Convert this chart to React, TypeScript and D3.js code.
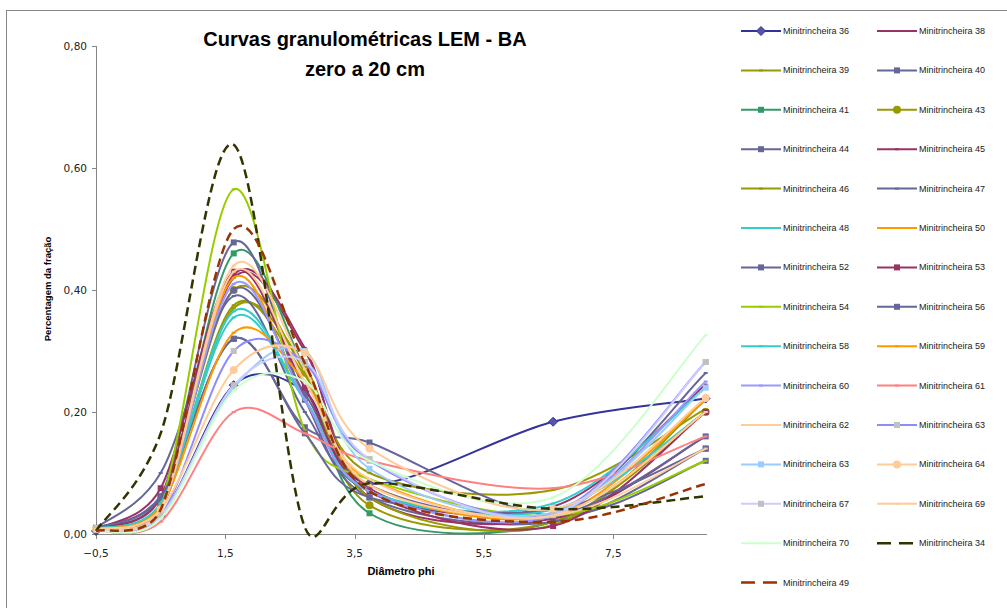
import React from 'react';
import * as d3 from 'd3';

// phi classes (x) where each curve has a point
const phi = [-0.5, 0.5, 1.63, 2.73, 3.73, 6.57, 8.93];
const xTicks = [-0.5, 1.5, 3.5, 5.5, 7.5];
const yTicks = [0, 0.2, 0.4, 0.6, 0.8];

// fraction values per minitrincheira
const m36 = [0.005, 0.03, 0.244, 0.233, 0.083, 0.184, 0.222];
const m38 = [0.008, 0.05, 0.42, 0.3, 0.075, 0.045, 0.245];
const m39 = [0.008, 0.045, 0.375, 0.26, 0.1, 0.072, 0.205];
const m40 = [0.01, 0.062, 0.32, 0.175, 0.15, 0.03, 0.12];
const m41 = [0.008, 0.04, 0.46, 0.27, 0.034, 0.02, 0.2];
const m43 = [0.008, 0.05, 0.4, 0.265, 0.047, 0.02, 0.2];
const m44 = [0.008, 0.06, 0.478, 0.22, 0.06, 0.02, 0.14];
const m45 = [0.008, 0.06, 0.425, 0.305, 0.06, 0.025, 0.16];
const m46 = [0.008, 0.04, 0.37, 0.275, 0.06, 0.015, 0.22];
const m47 = [0.01, 0.1, 0.39, 0.2, 0.07, 0.03, 0.264];
const m48 = [0.008, 0.05, 0.365, 0.22, 0.07, 0.05, 0.24];
const m50 = [0.008, 0.04, 0.42, 0.22, 0.09, 0.03, 0.22];
const m52 = [0.008, 0.05, 0.4, 0.23, 0.08, 0.03, 0.16];
const m53 = [0.008, 0.075, 0.43, 0.24, 0.07, 0.013, 0.2];
const m54 = [0.008, 0.05, 0.565, 0.17, 0.09, 0.03, 0.12];
const m56 = [0.01, 0.06, 0.32, 0.165, 0.06, 0.04, 0.14];
const m58 = [0.008, 0.05, 0.355, 0.22, 0.07, 0.04, 0.2];
const m59 = [0.008, 0.045, 0.33, 0.25, 0.08, 0.03, 0.2];
const m60 = [0.008, 0.04, 0.41, 0.22, 0.07, 0.03, 0.25];
const m61 = [0.005, 0.02, 0.2, 0.165, 0.12, 0.075, 0.16];
const m62 = [0.008, 0.04, 0.44, 0.27, 0.08, 0.03, 0.14];
const m63a = [0.008, 0.03, 0.3, 0.28, 0.12, 0.035, 0.282];
const m63b = [0.008, 0.03, 0.24, 0.3, 0.107, 0.035, 0.24];
const m64 = [0.008, 0.04, 0.269, 0.297, 0.14, 0.041, 0.223];
const m67 = [0.008, 0.03, 0.244, 0.282, 0.123, 0.031, 0.282];
const m69 = [0.008, 0.04, 0.43, 0.25, 0.09, 0.03, 0.2];
const m70 = [0.005, 0.025, 0.235, 0.25, 0.12, 0.06, 0.326];
const m34 = [0.005, 0.165, 0.638, 0.011, 0.083, 0.041, 0.062];
const m49 = [0.005, 0.04, 0.5, 0.28, 0.07, 0.02, 0.082];

type Marker = 'diamond' | 'square' | 'circle' | 'tiny' | 'none';
interface Serie {
  name: string;
  values: number[];
  color: string;
  marker: Marker;
  fill?: string;
  dashed?: boolean;
}

const series: Serie[] = [
  { name: 'Minitrincheira 36', values: m36, color: '#333399', marker: 'diamond', fill: '#5555aa' },
  { name: 'Minitrincheira 38', values: m38, color: '#993366', marker: 'tiny' },
  { name: 'Minitrincheira 39', values: m39, color: '#999900', marker: 'tiny' },
  { name: 'Minitrincheira 40', values: m40, color: '#666699', marker: 'square' },
  { name: 'Minitrincheira 41', values: m41, color: '#339966', marker: 'square' },
  { name: 'Minitrincheira 43', values: m43, color: '#999900', marker: 'circle' },
  { name: 'Minitrincheira 44', values: m44, color: '#666699', marker: 'square' },
  { name: 'Minitrincheira 45', values: m45, color: '#993366', marker: 'tiny' },
  { name: 'Minitrincheira 46', values: m46, color: '#999900', marker: 'tiny' },
  { name: 'Minitrincheira 47', values: m47, color: '#666699', marker: 'tiny' },
  { name: 'Minitrincheira 48', values: m48, color: '#33cccc', marker: 'tiny' },
  { name: 'Minitrincheira 50', values: m50, color: '#ff9900', marker: 'tiny' },
  { name: 'Minitrincheira 52', values: m52, color: '#666699', marker: 'square' },
  { name: 'Minitrincheira 53', values: m53, color: '#993366', marker: 'square' },
  { name: 'Minitrincheira 54', values: m54, color: '#99cc00', marker: 'tiny' },
  { name: 'Minitrincheira 56', values: m56, color: '#666699', marker: 'square' },
  { name: 'Minitrincheira 58', values: m58, color: '#33cccc', marker: 'tiny' },
  { name: 'Minitrincheira 59', values: m59, color: '#ff9900', marker: 'tiny' },
  { name: 'Minitrincheira 60', values: m60, color: '#9999ff', marker: 'tiny' },
  { name: 'Minitrincheira 61', values: m61, color: '#ff8080', marker: 'tiny' },
  { name: 'Minitrincheira 62', values: m62, color: '#ffcc99', marker: 'tiny' },
  { name: 'Minitrincheira 63', values: m63a, color: '#8c8cff', marker: 'square', fill: '#c0c0c0' },
  { name: 'Minitrincheira 63', values: m63b, color: '#99ccff', marker: 'square' },
  { name: 'Minitrincheira 64', values: m64, color: '#ffcc99', marker: 'circle' },
  { name: 'Minitrincheira 67', values: m67, color: '#ccccff', marker: 'square', fill: '#c0c0c0' },
  { name: 'Minitrincheira 69', values: m69, color: '#ffcc99', marker: 'tiny' },
  { name: 'Minitrincheira 70', values: m70, color: '#ccffcc', marker: 'tiny' },
  { name: 'Minitrincheira 34', values: m34, color: '#333300', marker: 'none', dashed: true },
  { name: 'Minitrincheira 49', values: m49, color: '#993300', marker: 'none', dashed: true },
];

const W = 1007;
const H = 608;
const left = 96;
const right = 707;
const top = 46;
const bottom = 534;
const axisColor = '#868686';
const textFont = '"DejaVu Sans", sans-serif';
const labelFont = '"Liberation Sans", Arial, sans-serif';

const comma = (f: string) => (v: number) => d3.format(f)(v).replace('.', ',');

// spreadsheet-style smoothed line: bezier segments, handle length capped at half the segment
const smoothPath = (pts: [number, number][]) => {
  const p = d3.path();
  const dist = (a: [number, number], b: [number, number]) => Math.hypot(b[0] - a[0], b[1] - a[1]);
  p.moveTo(pts[0][0], pts[0][1]);
  for (let i = 0; i < pts.length - 1; i++) {
    const p1 = pts[i];
    const p2 = pts[i + 1];
    const p0 = i > 0 ? pts[i - 1] : p1;
    const p3 = i + 2 < pts.length ? pts[i + 2] : p2;
    const d12 = dist(p1, p2);
    const d02 = dist(p0, p2);
    const d13 = dist(p1, p3);
    const f0 = d02 / 6 < d12 / 2 ? 1 / 6 : d12 / d02 / 2;
    const f1 = d13 / 6 < d12 / 2 ? 1 / 6 : d12 / d13 / 2;
    p.bezierCurveTo(
      p1[0] + (p2[0] - p0[0]) * f0,
      p1[1] + (p2[1] - p0[1]) * f0,
      p2[0] - (p3[0] - p1[0]) * f1,
      p2[1] - (p3[1] - p1[1]) * f1,
      p2[0],
      p2[1]
    );
  }
  return p.toString();
};

const MarkerShape = ({ kind, x, y, color, fill }: { kind: Marker; x: number; y: number; color: string; fill?: string }) => {
  const f = fill || color;
  if (kind === 'diamond') {
    return <path d={`M${x},${y - 4.5}L${x + 4.5},${y}L${x},${y + 4.5}L${x - 4.5},${y}Z`} fill={f} stroke={color} strokeWidth={1} />;
  }
  if (kind === 'square') {
    return <rect x={x - 3} y={y - 3} width={6} height={6} fill={f} />;
  }
  if (kind === 'circle') {
    return <circle cx={x} cy={y} r={4} fill={f} />;
  }
  if (kind === 'tiny') {
    return <rect x={x - 2} y={y - 1} width={4} height={2} fill={color} />;
  }
  return null;
};

const App = () => {
  const x = d3.scaleLinear().domain([-0.5, 8.95]).range([left, right]);
  const y = d3.scaleLinear().domain([0, 0.8]).range([bottom, top]);

  const fy = comma('.2f');
  const fx = comma('.1f');

  return (
    <svg width={W} height={H} style={{ position: 'absolute', left: 0, top: 0 }}>
      <rect x={0} y={0} width={W} height={H} fill="#fff" />
      <rect x={6.5} y={10.5} width={W + 10} height={H + 10} fill="none" stroke={axisColor} strokeWidth={1} />

      <text x={365} y={46} textAnchor="middle" fontFamily={labelFont} fontWeight="bold" fontSize={20} fill="#000">
        Curvas granulométricas LEM - BA
      </text>
      <text x={365} y={76} textAnchor="middle" fontFamily={labelFont} fontWeight="bold" fontSize={20} fill="#000">
        zero a 20 cm
      </text>

      {/* axes */}
      <line x1={left + 0.5} x2={left + 0.5} y1={top} y2={bottom} stroke={axisColor} />
      <line x1={left} x2={right} y1={bottom + 0.5} y2={bottom + 0.5} stroke={axisColor} />
      {yTicks.map((t) => (
        <g key={t}>
          <line x1={left - 4} x2={left} y1={Math.round(y(t)) + 0.5} y2={Math.round(y(t)) + 0.5} stroke={axisColor} />
          <text x={left - 9} y={y(t) + 4} textAnchor="end" fontFamily={textFont} fontSize={10.5} fill="#222">
            {fy(t)}
          </text>
        </g>
      ))}
      {xTicks.map((t) => (
        <g key={t}>
          <line x1={Math.round(x(t)) + 0.5} x2={Math.round(x(t)) + 0.5} y1={bottom} y2={bottom + 5} stroke={axisColor} />
          <text x={x(t)} y={bottom + 23} textAnchor="middle" fontFamily={textFont} fontSize={10.5} fill="#222">
            {fx(t)}
          </text>
        </g>
      ))}
      <text x={401} y={575} textAnchor="middle" fontFamily={labelFont} fontWeight="bold" fontSize={11} fill="#000">
        Diâmetro phi
      </text>
      <text
        transform="translate(51,289) rotate(-90)"
        textAnchor="middle"
        fontFamily={labelFont}
        fontWeight="bold"
        fontSize={9.5}
        fill="#000"
      >
        Percentagem da fração
      </text>

      {/* curves */}
      {series.map((s, i) => (
        <g key={i}>
          <path
            d={smoothPath(s.values.map((v, j) => [x(phi[j]), y(v)] as [number, number]))}
            fill="none"
            stroke={s.color}
            strokeWidth={s.dashed ? 2.5 : 2}
            strokeDasharray={s.dashed ? '9,5' : undefined}
          />
          {s.values.map((v, j) => (
            <MarkerShape key={j} kind={s.marker} x={x(phi[j])} y={y(v)} color={s.color} fill={s.fill} />
          ))}
        </g>
      ))}

      {/* legend */}
      {series.map((s, i) => {
        const col = i % 2;
        const row = Math.floor(i / 2);
        const lx = col === 0 ? 741 : 877;
        const ly = 31 + row * 39.4;
        return (
          <g key={`l${i}`}>
            <line
              x1={lx}
              x2={lx + 40}
              y1={ly}
              y2={ly}
              stroke={s.color}
              strokeWidth={s.dashed ? 2.5 : 2}
              strokeDasharray={s.dashed ? '14,8' : undefined}
            />
            <MarkerShape kind={s.marker} x={lx + 20} y={ly} color={s.color} fill={s.fill} />
            <text x={lx + 42} y={ly + 3} fontFamily={labelFont} fontSize={9} fill="#222">
              {s.name}
            </text>
          </g>
        );
      })}
    </svg>
  );
};

export default App;
